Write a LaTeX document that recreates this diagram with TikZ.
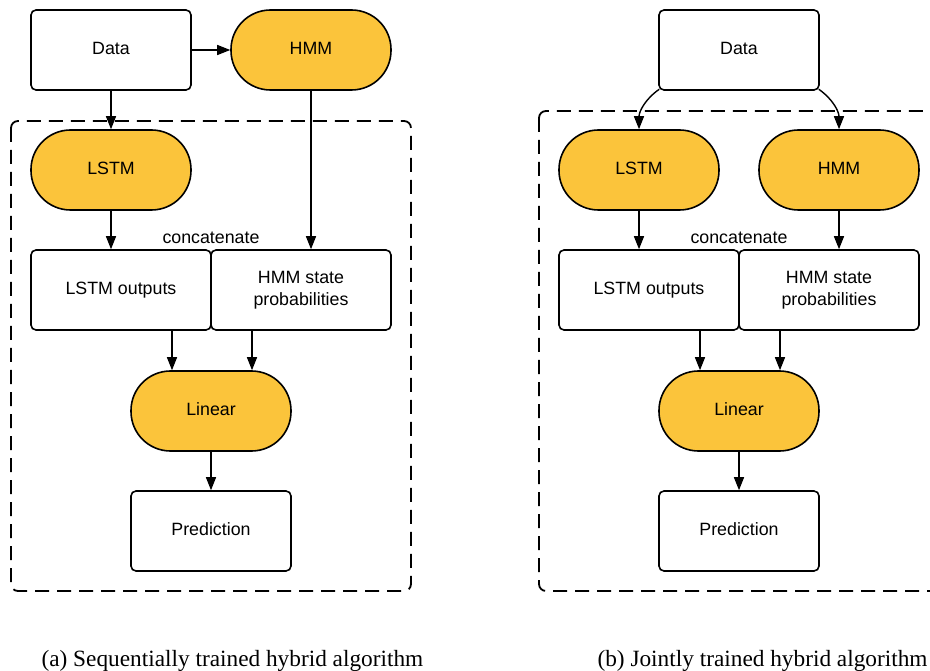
\documentclass[tikz,border=0pt]{standalone}
\usepackage{fontspec}
\setmainfont{Liberation Sans}
\newfontfamily\capfont{Liberation Serif}
\usetikzlibrary{arrows.meta}

\definecolor{pillyellow}{HTML}{FBC43B}
\tikzset{
  box/.style={draw, line width=1.6pt, rounded corners=5pt, minimum width=160pt,
    minimum height=80pt, align=center, font=\fontsize{17.8}{22}\selectfont,
    text height=13pt, text depth=4pt},
  widebox/.style={box, minimum width=180pt},
  twoline/.style={widebox, text height=, text depth=},
  pill/.style={box, fill=pillyellow, rounded corners=39.5pt},
  arr/.style={line width=1.4pt, -{Triangle[length=13pt,width=10pt]}},
  dashbox/.style={line width=1.8pt, dash pattern=on 14pt off 8pt, rounded corners=7pt},
  caption/.style={font=\capfont\fontsize{23.3}{26}\selectfont}
}

\begin{document}
\begin{tikzpicture}[x=1pt,y=-1pt]
\useasboundingbox (0,0) rectangle (930,671);

% (a) sequential
\draw[dashbox] (11,121) rectangle (411,591);
\node[box] (dataA) at (111,50) {Data};
\node[pill] (hmmA) at (311,50) {HMM};
\node[pill] (lstmA) at (111,170) {LSTM};
\node[widebox] (outA) at (121,290) {LSTM outputs};
\node[twoline] (probA) at (301,290) {HMM state\\probabilities};
\node[font=\fontsize{17.8}{22}\selectfont] (catA) at (211,238) {concatenate};
\node[pill] (linA) at (211,411) {Linear};
\node[box] (predA) at (211,531) {Prediction};

\draw[arr] (dataA) -- (hmmA);
\draw[arr] (dataA) -- (lstmA);
\draw[arr] (lstmA.south) -- (lstmA.south |- outA.north);
\draw[arr] (hmmA.south) -- (hmmA.south |- probA.north);
\draw[arr] ([xshift=51pt]outA.south) -- ([xshift=51pt]outA.south |- linA.north);
\draw[arr] ([xshift=-49pt]probA.south) -- ([xshift=-49pt]probA.south |- linA.north);
\draw[arr] (linA) -- (predA);

% (b) joint
\draw[dashbox] (539,111) rectangle (941,591);
\node[box] (dataB) at (739,50) {Data};
\node[pill] (lstmB) at (639,170) {LSTM};
\node[pill] (hmmB) at (839,170) {HMM};
\node[widebox] (outB) at (649,290) {LSTM outputs};
\node[twoline] (probB) at (829,290) {HMM state\\probabilities};
\node[font=\fontsize{17.8}{22}\selectfont] (catB) at (739,238) {concatenate};
\node[pill] (linB) at (739,411) {Linear};
\node[box] (predB) at (739,531) {Prediction};

\draw[arr] ([xshift=1pt,yshift=1.5pt]dataB.south west) to[out=-145,in=90] (lstmB.north);
\draw[arr] ([xshift=-1pt,yshift=1.5pt]dataB.south east) to[out=-35,in=90] (hmmB.north);
\draw[arr] (lstmB.south) -- (lstmB.south |- outB.north);
\draw[arr] (hmmB.south) -- (hmmB.south |- probB.north);
\draw[arr] ([xshift=51pt]outB.south) -- ([xshift=51pt]outB.south |- linB.north);
\draw[arr] ([xshift=-49pt]probB.south) -- ([xshift=-49pt]probB.south |- linB.north);
\draw[arr] (linB) -- (predB);

% captions
\node[caption, anchor=base west] (capA) at (38,666) {(a) Sequentially trained hybrid algorithm};
\node[caption, anchor=base west] (capB) at (594,666) {(b) Jointly trained hybrid algorithm};
\end{tikzpicture}
\end{document}
